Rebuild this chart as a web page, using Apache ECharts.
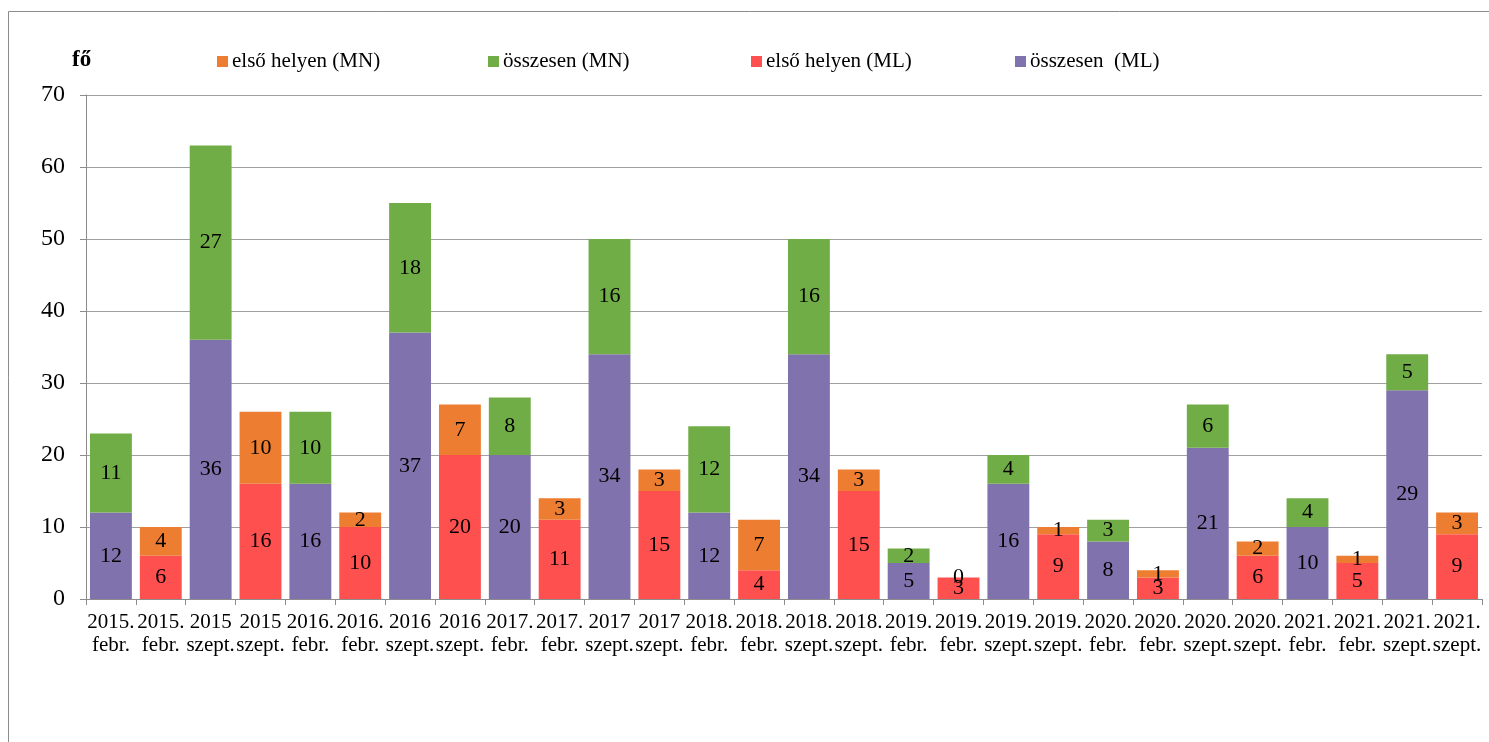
<!DOCTYPE html>
<html><head><meta charset="utf-8">
<script src="https://cdn.jsdelivr.net/npm/echarts@6/dist/echarts.min.js"></script>
<style>html,body{margin:0;padding:0;background:#fff}#c{width:1489px;height:742px}</style>
</head><body><div id="c"></div>
<script>
const categories = [
 '2015.\nfebr.','2015.\nfebr.','2015\nszept.','2015\nszept.',
 '2016.\nfebr.','2016.\nfebr.','2016\nszept.','2016\nszept.',
 '2017.\nfebr.','2017.\nfebr.','2017\nszept.','2017\nszept.',
 '2018.\nfebr.','2018.\nfebr.','2018.\nszept.','2018.\nszept.',
 '2019.\nfebr.','2019.\nfebr.','2019.\nszept.','2019.\nszept.',
 '2020.\nfebr.','2020.\nfebr.','2020.\nszept.','2020.\nszept.',
 '2021.\nfebr.','2021.\nfebr.','2021.\nszept.','2021.\nszept.'
];
const osszesenML = [12,'-',36,'-',16,'-',37,'-',20,'-',34,'-',12,'-',34,'-',5,'-',16,'-',8,'-',21,'-',10,'-',29,'-'];
const osszesenMN = [11,'-',27,'-',10,'-',18,'-',8,'-',16,'-',12,'-',16,'-',2,'-',4,'-',3,'-',6,'-',4,'-',5,'-'];
const elsoML = ['-',6,'-',16,'-',10,'-',20,'-',11,'-',15,'-',4,'-',15,'-',3,'-',9,'-',3,'-',6,'-',5,'-',9];
const elsoMN = ['-',4,'-',10,'-',2,'-',7,'-',3,'-',3,'-',7,'-',3,'-',0,'-',1,'-',1,'-',2,'-',1,'-',3];
const yTicks = {min:0, max:70, interval:10};

const FONT = '"Liberation Serif", "Times New Roman", serif';
const lbl = {show:true, position:'inside', color:'#000', fontFamily:FONT, fontSize:22};
function mk(name, data, color){
  return {name, type:'bar', stack:'s', data, barWidth:'84%', itemStyle:{color}, label:lbl, emphasis:{disabled:true}};
}
const legendBase = {top:46, itemWidth:11, itemHeight:11, itemGap:4, textStyle:{fontFamily:FONT, fontSize:21, color:'#000', padding:[0,0,0,-1]}, icon:'rect', selectedMode:false};
const legendNames = [['első helyen (MN)',212],['összesen (MN)',483],['első helyen (ML)',746],['összesen  (ML)',1010]];

const chart = echarts.init(document.getElementById('c'));
chart.setOption({
  animation:false,
  graphic:[{type:'rect', shape:{x:8.5,y:11.5,width:1600,height:900}, style:{fill:'none', stroke:'#8c8c8c', lineWidth:1}, silent:true}],
  title:{text:'fő', left:67, top:44, textStyle:{fontFamily:FONT, fontSize:23, fontWeight:'bold', color:'#000'}},
  legend: legendNames.map(([n,l])=>Object.assign({}, legendBase, {left:l, data:[n]})),
  grid:{left:86, right:7, top:95, bottom:143, containLabel:false},
  xAxis:{type:'category', data:categories,
    axisLine:{lineStyle:{color:'#8c8c8c'}},
    axisTick:{show:true, length:6, lineStyle:{color:'#8c8c8c'}},
    axisLabel:{interval:0, color:'#000', fontFamily:FONT, fontSize:21, lineHeight:23, margin:12}},
  yAxis:{type:'value', min:yTicks.min, max:yTicks.max, interval:yTicks.interval,
    axisLine:{show:true, lineStyle:{color:'#8c8c8c'}},
    axisTick:{show:true, length:6, lineStyle:{color:'#8c8c8c'}},
    splitLine:{lineStyle:{color:'#a0a0a0'}},
    axisLabel:{color:'#000', fontFamily:FONT, fontSize:24, margin:21}},
  series:[
    mk('összesen  (ML)', osszesenML, '#8072AC'),
    mk('összesen (MN)', osszesenMN, '#70AD47'),
    mk('első helyen (ML)', elsoML, '#FF5050'),
    mk('első helyen (MN)', elsoMN, '#ED7D31')
  ]
});
</script></body></html>
